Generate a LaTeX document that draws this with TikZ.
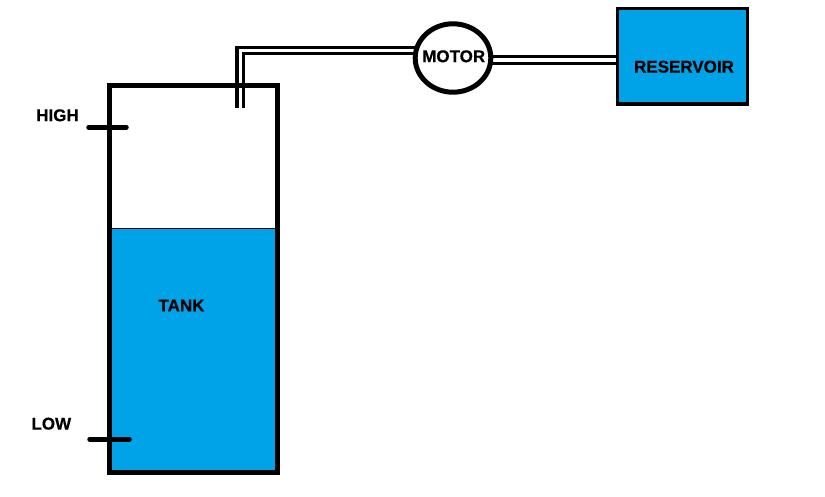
\documentclass[tikz,border=0pt]{standalone}
\usepackage{fontspec}
\setmainfont{Liberation Sans}[BoldFeatures={FakeBold=0.5}]
\usetikzlibrary{shapes.geometric}
\definecolor{waterblue}{HTML}{00A2E8}
\tikzset{
  label text/.style={font=\fontsize{17}{18}\selectfont\bfseries,inner sep=0pt},
  pipe/.style={line width=3.2pt},
  level mark/.style={line width=4.5pt,line cap=round}
}
\begin{document}
\begin{tikzpicture}[x=1pt,y=-1pt]
        \useasboundingbox (0,0) rectangle (825,497);
        \node [rectangle,fill=waterblue,minimum width=168pt,minimum height=244pt,inner sep=0pt,outer sep=0pt] (water) at (193.5,350.5) {};
        \node [rectangle,draw,line width=5pt,minimum width=168pt,minimum height=387pt,inner sep=0pt,outer sep=0pt] (tank) at (193.5,279) {};
        \node [ellipse,draw,line width=5pt,minimum width=75.6pt,minimum height=68.4pt,inner sep=0pt,outer sep=0pt] (motor) at (453,58) {};
        \node [rectangle,draw,fill=waterblue,line width=3.3pt,minimum width=130pt,minimum height=95.3pt,inner sep=0pt,outer sep=0pt] (reservoir) at (682.7,56.35) {};
        \node [label text] (tanklabel) at (181.5,305.5) {TANK};
        \node [label text] (motorlabel) at (453.7,56.3) {MOTOR};
        \node [label text] (reservoirlabel) at (684,66.7) {RESERVOIR};
        \node [label text] (highlabel) at (57.5,115.3) {HIGH};
        \node [label text] (lowlabel) at (51.3,423.7) {LOW};
        \coordinate (outerpipe) at (237,107.7);
        \coordinate (innerpipe) at (243.5,107.7);
        \coordinate (outerlevel) at (0,47.5);
        \coordinate (innerlevel) at (0,53.5);
        \coordinate (upperlevel) at (0,56.7);
        \coordinate (lowerlevel) at (0,63.7);
        \coordinate (highleft) at (88.5,127.3);
        \coordinate (highright) at (126.5,127.3);
        \coordinate (lowleft) at (89.5,439.3);
        \coordinate (lowright) at (129.5,439.3);
        \draw [line width=1pt] (water.north west) -- (water.north east);
        \draw [pipe,shorten >=-3pt] (outerpipe) |- (motor.west |- outerlevel);
        \draw [pipe,shorten >=-3pt] (innerpipe) |- (motor.west |- innerlevel);
        \draw [pipe,shorten <=-1pt] (motor.east |- upperlevel) -- (reservoir.west |- upperlevel);
        \draw [pipe,shorten <=-1pt] (motor.east |- lowerlevel) -- (reservoir.west |- lowerlevel);
        \draw [level mark] (highleft) -- (highright);
        \draw [level mark] (lowleft) -- (lowright);
      \end{tikzpicture}
\end{document}
